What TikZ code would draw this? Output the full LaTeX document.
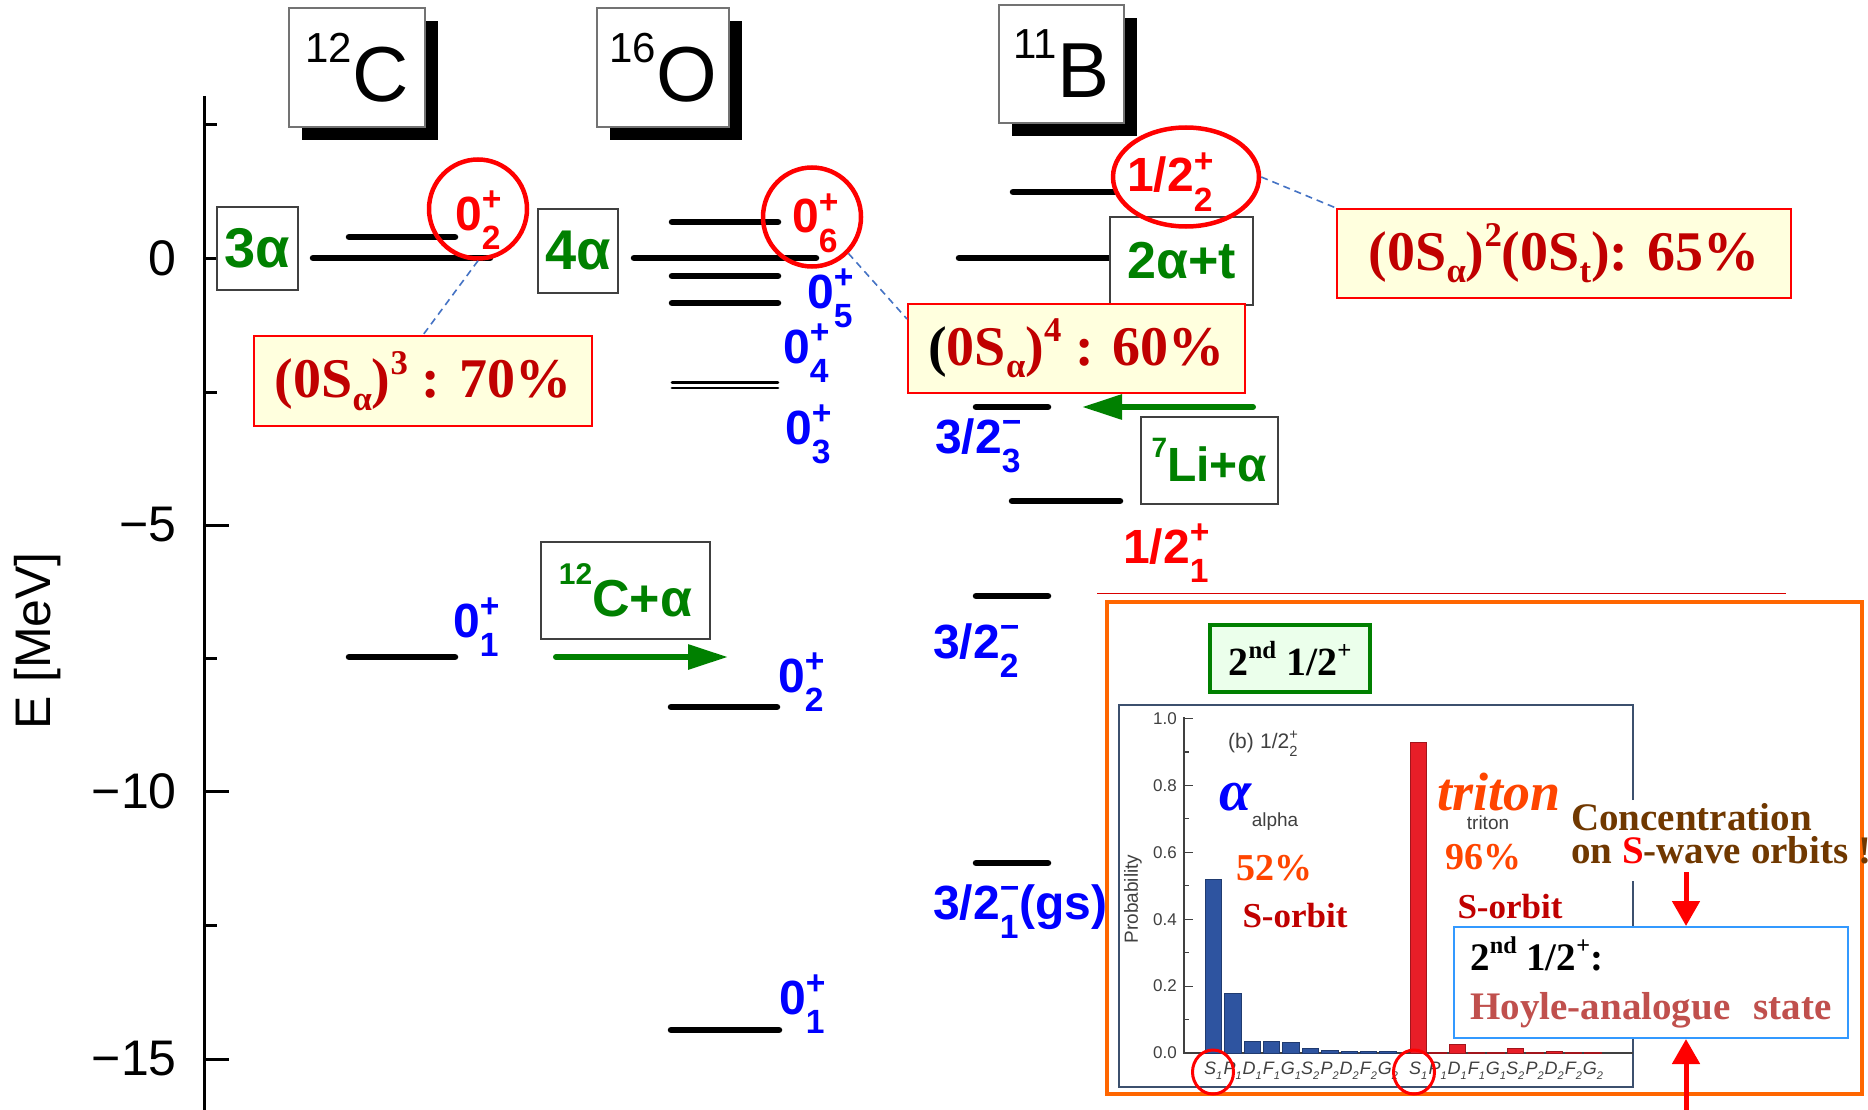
\documentclass[tikz,border=0pt]{standalone}
\usepackage{fontspec}
\setmainfont{Liberation Serif}
\setsansfont{Liberation Sans}
\usetikzlibrary{shapes.geometric,arrows.meta,shadows}
\makeatletter
\newcommand\RelSz[1]{\edef\RelSzTmp{\strip@pt\dimexpr #1\dimexpr\f@size pt\relax\relax}\fontsize{\RelSzTmp}{\RelSzTmp}\selectfont}
\makeatother
\newcommand\FS[1]{\fontsize{#1}{#1}\selectfont}
\newsavebox\LvA
\newsavebox\LvB
\newcommand\LvSS[2]{{\sbox\LvA{\RelSz{0.7}#1}\sbox\LvB{\RelSz{0.7}#2}\raisebox{0.4em}{\usebox\LvA}\kern-\wd\LvA\raisebox{-0.4em}{\usebox\LvB}\ifdim\wd\LvA>\wd\LvB\kern\dimexpr\wd\LvA-\wd\LvB\relax\fi}}
\newcommand\Sup[1]{\raisebox{0.42em}{\RelSz{0.62}#1}}
\newcommand\Sub[1]{\raisebox{-0.22em}{\RelSz{0.62}#1}}
\newcommand\RaiseNum[3]{\raisebox{#1}{\FS{#2}#3}}
\definecolor{lvblue}{RGB}{0,0,255}
\definecolor{lvred}{RGB}{255,0,0}
\definecolor{lvgreen}{RGB}{0,128,0}
\definecolor{dred}{RGB}{192,0,0}
\definecolor{pyellow}{RGB}{255,255,222}
\definecolor{dashblue}{RGB}{68,114,196}
\definecolor{orng}{RGB}{255,102,0}
\definecolor{orred}{RGB}{255,69,0}
\definecolor{brownc}{RGB}{112,56,0}
\definecolor{hoyle}{RGB}{192,80,77}
\definecolor{barblue}{RGB}{46,84,160}
\definecolor{barred}{RGB}{232,30,40}
\definecolor{framec}{RGB}{60,80,110}
\definecolor{lbox}{RGB}{51,153,255}
\definecolor{gfill}{RGB}{235,255,235}
\begin{document}
\begin{tikzpicture}[x=1pt,y=-1pt,
  lvline/.style={line width=6.5pt, line cap=round},
  elbox/.style={draw=black!55, line width=1.5pt, fill=white, inner sep=0pt, font=\sffamily\FS{78},
     drop shadow={shadow xshift=13pt, shadow yshift=-13pt, opacity=1, fill=black}},
  clbox/.style={draw=black!75, line width=2pt, fill=white, inner sep=0pt, text=lvgreen, font=\sffamily\bfseries\FS{56}},
  formbox/.style={draw=red, line width=2pt, fill=pyellow, inner sep=0pt, text=dred, font=\bfseries\FS{56}},
  lvlab/.style={anchor=base west, inner sep=0pt, font=\sffamily\bfseries\FS{48}},
  lvring/.style={ellipse, draw=red, line width=4.5pt, inner sep=0pt},
  dcon/.style={draw=dashblue, line width=1.6pt, dash pattern=on 7pt off 5pt},
  garrow/.style={draw=lvgreen, line width=6pt, line cap=round, -{Triangle[length=40pt,width=24pt]}},
  rarrow/.style={draw=red, line width=5pt, -{Triangle[length=25pt,width=27pt]}},
  axtick/.style={line width=3pt},
  axlab/.style={anchor=east, inner sep=0pt, font=\sffamily\FS{50}},
  chtxt/.style={inner sep=0pt, font=\sffamily\FS{19}, text=black!75}
]
\useasboundingbox (0,0) rectangle (1868,1110);
\fill[white] (0,0) rectangle (1868,1110);

% ---------- energy axis ----------
\draw[axtick] (204,96) -- (204,1110);
\foreach \yy in {258,525,791,1059} {\draw[axtick] (204,\yy) -- (229,\yy);}
\foreach \yy in {125,392,658,925} {\draw[axtick] (204,\yy) -- (217,\yy);}
\node[axlab] (t0) at (177,258) {0};
\node[axlab] (t5) at (177,525) {−5};
\node[axlab] (t10) at (177,791) {−10};
\node[axlab] (t15) at (177,1059) {−15};
\node[rotate=90, font=\sffamily\FS{50}, inner sep=0pt] (ylab) at (38,641) {E [MeV]};

% ---------- nucleus titles ----------
\node[elbox, minimum width=136, minimum height=119] (tC) at (357,67.5) {\RaiseNum{39pt}{42}{12}C};
\node[elbox, minimum width=132, minimum height=119] (tO) at (663,67.5) {\RaiseNum{39pt}{42}{16}O};
\node[elbox, minimum width=125, minimum height=118] (tB) at (1061.5,64) {\RaiseNum{39pt}{42}{11}B};

% ---------- levels 12C ----------
\draw[lvline] (349,237) -- (455,237);
\draw[lvline] (313,258) -- (490,258);
\draw[lvline] (349,657) -- (455,657);
% ---------- levels 16O ----------
\draw[lvline] (672,222) -- (778,222);
\draw[lvline] (634,258) -- (816,258);
\draw[lvline] (672,276) -- (778,276);
\draw[lvline] (672,303) -- (778,303);
\draw[line width=2.8pt, line cap=round] (672,382.5) -- (778,382.5);
\draw[line width=2.8pt, line cap=round] (672,388) -- (778,388);
\draw[lvline] (671,707) -- (777,707);
\draw[lvline] (671,1030) -- (779,1030);
% ---------- levels 11B ----------
\draw[lvline] (1013,192) -- (1115,192);
\draw[lvline] (959,258) -- (1110,258);
\draw[lvline] (976,407) -- (1048,407);
\draw[lvline] (1012,501) -- (1120,501);
\draw[lvline] (976,596) -- (1048,596);
\draw[lvline] (976,863) -- (1048,863);

% ---------- cluster boxes ----------
\node[clbox, minimum width=81, minimum height=83] (k3a) at (257.5,248.5) {3α};
\node[clbox, minimum width=80, minimum height=84] (k4a) at (578,251) {4α};
\node[clbox, minimum width=143, minimum height=88, font=\sffamily\bfseries\FS{52}] (k2at) at (1181.5,261) {2α+t};
\node[clbox, minimum width=137, minimum height=87, font=\sffamily\bfseries\FS{48}] (k7li) at (1209.5,460.5) {\RaiseNum{24pt}{28}{7}Li+α};
\node[clbox, minimum width=169, minimum height=97, font=\sffamily\bfseries\FS{52}] (k12ca) at (625.5,590.5) {\RaiseNum{32pt}{30}{12}C+α};

% ---------- green arrows ----------
\coordinate (a12s) at (556,657);
\coordinate (a12e) at (728,657);
\draw[garrow] (a12s) -- (a12e);
\coordinate (a7s) at (1253,407);
\coordinate (a7e) at (1082,407);
\draw[garrow] (a7s) -- (a7e);

% ---------- formula boxes ----------
\node[formbox, minimum width=338, minimum height=90] (b70) at (423,381) {(0S\Sub{α})\Sup{3} : 70\%};
\node[formbox, minimum width=337, minimum height=89] (b60) at (1076.5,348.5) {\textcolor{black}{(}0S\Sub{α})\Sup{4} : 60\%};
\node[formbox, minimum width=454, minimum height=89] (b65) at (1564,253.5) {(0S\Sub{α})\Sup{2}(0S\Sub{t}): 65\%};

% ---------- red rings ----------
\node[lvring, minimum width=98, minimum height=99] (c12) at (478,209) {};
\node[lvring, minimum width=98, minimum height=99] (c16) at (812,217) {};
\node[lvring, minimum width=146, minimum height=99] (c11) at (1186,177) {};

% ---------- connectors ----------
\draw[dcon] (c12.south) -- (b70.north);
\draw[dcon] (c16.-45) -- ([yshift=-16pt]b60.north west);
\draw[dcon] (c11.east) -- (b65.north west);

% ---------- level labels ----------
\node[lvlab, text=lvred] (l02r) at (455,230) {0\LvSS{+}{2}};
\node[lvlab, text=lvred] (l06r) at (792,233) {0\LvSS{+}{6}};
\node[lvlab, text=lvblue] (l05) at (807,308) {0\LvSS{+}{5}};
\node[lvlab, text=lvblue] (l04) at (783,363) {0\LvSS{+}{4}};
\node[lvlab, text=lvblue] (l03) at (785,444) {0\LvSS{+}{3}};
\node[lvlab, text=lvblue] (l02b) at (778,692) {0\LvSS{+}{2}};
\node[lvlab, text=lvblue] (l01b) at (779,1014) {0\LvSS{+}{1}};
\node[lvlab, text=lvblue] (l01c) at (453,637) {0\LvSS{+}{1}};
\node[lvlab, text=lvblue] (l323) at (935,453) {3/2\LvSS{−}{3}};
\node[lvlab, text=lvblue] (l322) at (933,658) {3/2\LvSS{−}{2}};
\node[lvlab, text=lvblue] (l321) at (933,919) {3/2\LvSS{−}{1}(gs)};
\node[lvlab, text=lvred] (l122) at (1127,192) {1/2\LvSS{+}{2}};
\node[lvlab, text=lvred] (l121) at (1123,563) {1/2\LvSS{+}{1}};

% ---------- inset ----------
\draw[red!85!black, line width=1.2pt] (1097,593.5) -- (1786,593.5);
\node[draw=orng, line width=4pt, minimum width=755, minimum height=492, inner sep=0pt] (obox) at (1484.5,848) {};
\node[draw=lvgreen, line width=3.5pt, fill=gfill, minimum width=160, minimum height=67, inner sep=0pt, font=\bfseries\FS{40}] (g2nd) at (1290,658.5) {2\Sup{nd} 1/2\Sup{+}};

% chart frame, right edge broken where the text lies over it
\draw[framec, line width=1.5pt] (1633,800) -- (1633,705) -- (1119,705) -- (1119,1087) -- (1633,1087) -- (1633,881);
\draw[black!75, line width=1.3pt] (1184,717) -- (1184,1053) -- (1633,1053);
\foreach \k in {0,...,10} {
  \pgfmathsetmacro\yy{1053-33.45*\k}
  \ifodd\k
    \draw[black!75, line width=1.2pt] (1184,\yy) -- (1189,\yy);
  \else
    \draw[black!75, line width=1.2pt] (1184,\yy) -- (1193,\yy);
  \fi
}
\foreach \v/\k in {0.0/0,0.2/2,0.4/4,0.6/6,0.8/8,1.0/10}
  \node[chtxt, anchor=east, font=\sffamily\FS{17}] (yt\k) at (1177,{1053-33.45*\k}) {\v};
\node[chtxt, rotate=90] (prob) at (1133,899) {Probability};

\foreach \i/\p in {0/0.52,1/0.18,2/0.035,3/0.036,4/0.033,5/0.014,6/0.007,7/0.006,8/0.004,9/0.006}
  \filldraw[fill=barblue, draw=barblue!70!black, line width=0.6pt] ({1205+19.4*\i},1053) rectangle ({1221.5+19.4*\i},{1053-334.5*\p});
\foreach \i/\p in {0/0.93,1/0.002,2/0.025,3/0.001,4/0.002,5/0.013,6/0.001,7/0.005,8/0.001,9/0.002}
  \filldraw[fill=barred, draw=barred!70!black, line width=0.6pt] ({1410+19.4*\i},1053) rectangle ({1426.5+19.4*\i},{1053-334.5*\p});
\foreach \i/\L/\n in {0/S/1,1/P/1,2/D/1,3/F/1,4/G/1,5/S/2,6/P/2,7/D/2,8/F/2,9/G/2} {
  \node[chtxt, anchor=base, font=\sffamily\itshape\FS{18}] (xa\i) at ({1213.25+19.4*\i},1074) {\L\raisebox{-0.3em}{\FS{11}\n}};
  \node[chtxt, anchor=base, font=\sffamily\itshape\FS{18}] (xt\i) at ({1418.25+19.4*\i},1074) {\L\raisebox{-0.3em}{\FS{11}\n}};
}
\node[ellipse, draw=red, line width=3pt, minimum width=41, minimum height=44, inner sep=0pt] (sa) at (1213,1072) {};
\node[ellipse, draw=red, line width=3pt, minimum width=41, minimum height=44, inner sep=0pt] (st) at (1414,1072) {};

\node[chtxt, anchor=base west, font=\sffamily\FS{21}] (btitle) at (1228,748) {(b)\hspace{0.3em}1/2\LvSS{+}{2}};
\node[inner sep=0pt, font=\bfseries\itshape\FS{58}, text=blue] (alp) at (1236,797) {α};
\node[chtxt] (alpt) at (1275,822) {alpha};
\node[inner sep=0pt, font=\bfseries\FS{38}, text=orred] (p52) at (1274,868) {52\%};
\node[inner sep=0pt, font=\bfseries\FS{35}, text=dred] (so1) at (1295,916) {S-orbit};
\node[inner sep=0pt, font=\bfseries\itshape\FS{54}, text=orred] (trt) at (1499,792) {triton};
\node[chtxt] (trts) at (1488,823) {triton};
\node[inner sep=0pt, font=\bfseries\FS{38}, text=orred] (p96) at (1483,857) {96\%};
\node[inner sep=0pt, font=\bfseries\FS{35}, text=dred] (so2) at (1510,907) {S-orbit};

\node[align=left, anchor=north west, inner sep=0pt, text=brownc, font=\bfseries\fontsize{39}{33}\selectfont] (conc) at (1571,803) {Concentration\\on \textcolor{red}{S}-wave orbits !};

\node[draw=lbox, line width=2pt, fill=white, minimum width=394, minimum height=111, inner sep=0pt, align=left, font=\bfseries\fontsize{39}{49}\selectfont] (hoy) at (1651,982.5) {2\Sup{nd} 1/2\Sup{+}:\\\textcolor{hoyle}{Hoyle-analogue\hspace{0.6em}state}};

\coordinate (ad) at (1686,872);
\draw[rarrow] (ad) -- (ad |- hoy.north);
\coordinate (au) at (1686,1112);
\draw[rarrow] (au) -- (au |- hoy.south);
\end{tikzpicture}
\end{document}
